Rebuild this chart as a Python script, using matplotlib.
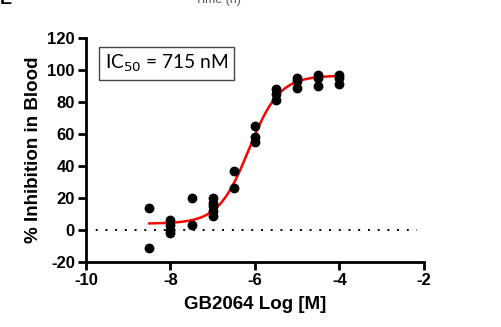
import numpy as np
import matplotlib
matplotlib.use("Agg")
import matplotlib.pyplot as plt

# ============  data  ============
log_conc = [-8.5, -8.0, -7.5, -7.0, -6.5, -6.0, -5.5, -5.0, -4.5, -4.0]
inhibition = [
    [14, -11],
    [6, 3, 0, -2],
    [20, 3],
    [20, 17, 15, 12, 9],
    [37, 26],
    [65, 58, 55],
    [88, 85, 81],
    [95, 93, 89],
    [97, 95, 90],
    [97, 95, 91],
]

# 4PL fit parameters
bottom, top, hill = 4.0, 96.5, 1.2
ic50_nM = 715
log_ic50 = np.log10(ic50_nM * 1e-9)

xticks = [-10, -8, -6, -4, -2]
yticks = [-20, 0, 20, 40, 60, 80, 100, 120]

# ============  plot  ============
plt.rcParams['font.family'] = ['Liberation Sans', 'DejaVu Sans']
fig = plt.figure(figsize=(5.02, 3.27), dpi=100)
ax = fig.add_axes([0.1713, 0.1988, 0.6733, 0.685])

xs = []; ys = []
for x, vals in zip(log_conc, inhibition):
    xs += [x] * len(vals)
    ys += vals

ax.axhline(0, xmin=0, xmax=0.98, color='black', lw=1.4, ls=(0, (1, 4)))

xf = np.linspace(log_conc[0], log_conc[-1], 300)
yf = bottom + (top - bottom) / (1 + 10 ** ((log_ic50 - xf) * hill))
ax.plot(xf, yf, color='red', lw=1.8, zorder=2)

ax.scatter(xs, ys, s=50, color='black', zorder=3, linewidths=0)

ax.set_xlim(-10, -2)
ax.set_ylim(-20, 120)
ax.set_xticks(xticks)
ax.set_yticks(yticks)
ax.set_xticklabels([str(t) for t in xticks])
ax.set_yticklabels([str(t) for t in yticks])

for s in ['top', 'right']:
    ax.spines[s].set_visible(False)
for s in ['left', 'bottom']:
    ax.spines[s].set_linewidth(2)
ax.tick_params(width=2, length=6, labelsize=12, pad=2)
for lab in ax.get_xticklabels() + ax.get_yticklabels():
    lab.set_fontweight('bold')

ax.set_xlabel('GB2064 Log [M]', fontsize=13.5, fontweight='bold', labelpad=6)
ax.set_ylabel('% Inhibition in Blood', fontsize=13.5, fontweight='bold', labelpad=4)

ax.text(0.056, 0.935, 'IC$_{50}$ = 715 nM', transform=ax.transAxes,
        fontsize=13.8, family=['Lato', 'DejaVu Sans'], va='top', ha='left',
        bbox=dict(boxstyle='square,pad=0.3', fc='white', ec='#444444', lw=1))

# cut-off remnants from neighbouring panel
fig.text(0.0, 1.0, 'E', fontsize=13, fontweight='bold', va='center', ha='left')
fig.text(0.435, 1.0, 'Time (h)', fontsize=9, va='center', ha='center', color='#555555')

fig.savefig('out.png', dpi=100)
